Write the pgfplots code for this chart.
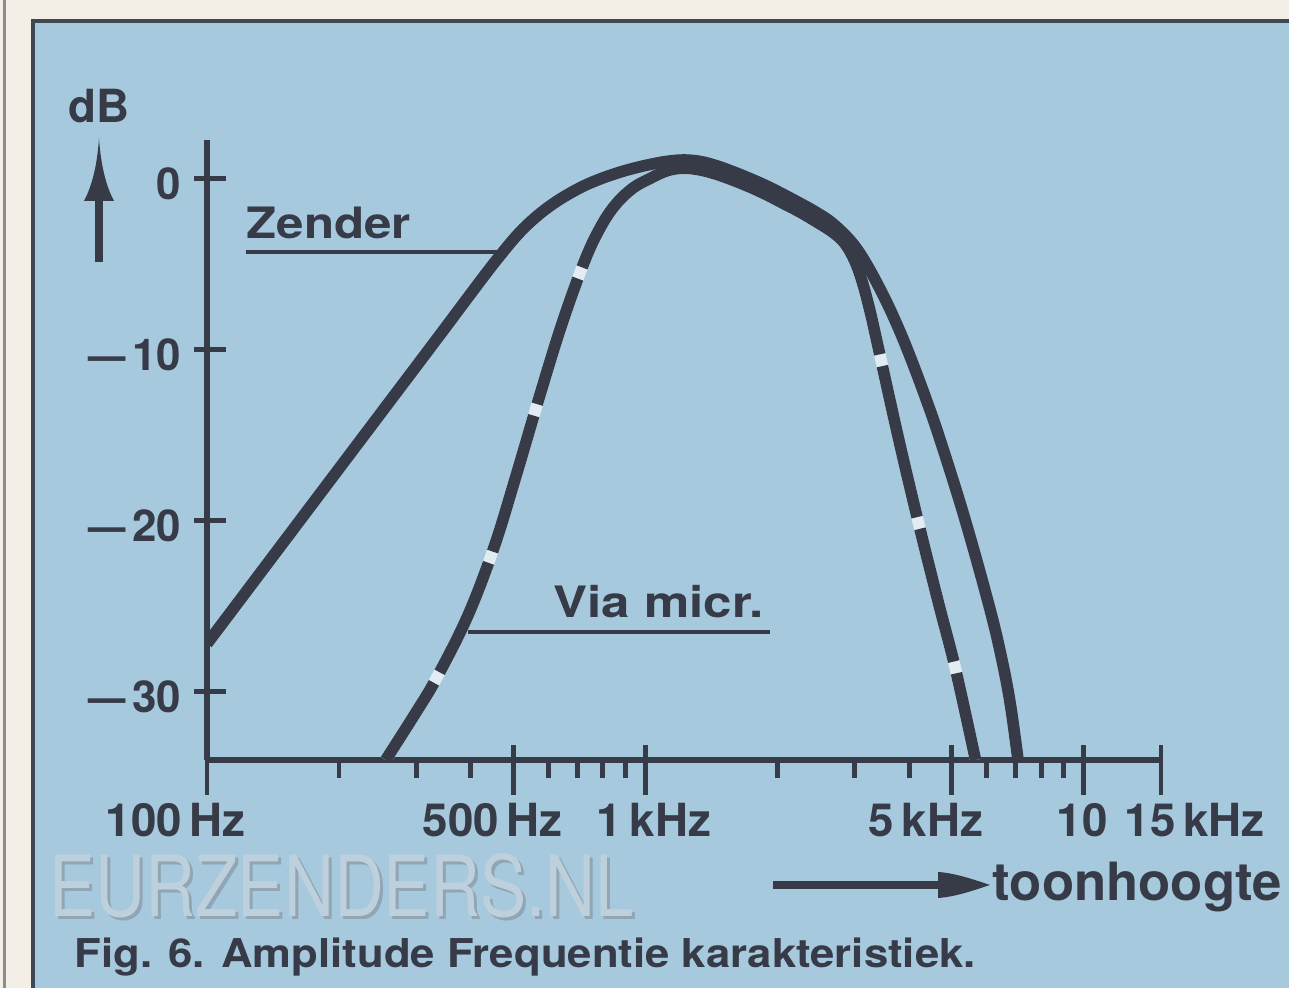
\documentclass[border=0pt]{standalone}
\usepackage{pgfplots}
\usepackage{pgfplotstable}
\pgfplotsset{compat=1.18}
\usepackage{graphicx}
\usepackage{fontspec}
\setmainfont{TeX Gyre Heros}
\definecolor{bgblue}{HTML}{A7C9DE}
\definecolor{ink}{HTML}{363B47}
\definecolor{paper}{HTML}{F3EFE6}
\definecolor{framec}{HTML}{3D4852}
\definecolor{gapc}{HTML}{E2EDF3}
\definecolor{wmfill}{HTML}{BDD0DC}
\definecolor{wmedge}{HTML}{90A6B4}

\pgfplotstableread{
f db
100 -27.2
216 -15.83
330 -9.58
420 -6.0
467 -4.48
515 -3.19
564 -2.23
615 -1.49
669 -0.90
730 -0.39
796 0.01
870 0.35
945 0.61
1030 0.83
1120 1.0
1220 1.08
1330 1.0
1450 0.75
1583 0.4
1730 0.0
1892 -0.44
2060 -0.92
2250 -1.44
2460 -2.0
2677 -2.64
2960 -3.75
3200 -5.04
3500 -6.91
3750 -8.56
4000 -10.3
4350 -12.78
4700 -15.27
5350 -19.88
6100 -25.12
6500 -28.1
6800 -30.75
7080 -34
}\zender

\pgfplotstableread{
f db
255.6 -34
300 -31.2
334 -29.2
393 -25.6
451 -21.6
504 -17.6
574 -12.7
647 -8.4
730 -4.7
796 -2.7
860 -1.45
938 -0.55
1025 0.0
1120 0.45
1220 0.6
1330 0.5
1450 0.25
1583 -0.1
1730 -0.5
1892 -0.96
2060 -1.45
2250 -1.96
2460 -2.55
2677 -3.15
2850 -3.8
3000 -4.8
3120 -6.0
3250 -7.7
3385 -9.7
3771 -15.1
4184 -20.0
4659 -24.8
5088 -28.6
5663 -34
}\viamicr

\begin{document}
\begin{tikzpicture}
\useasboundingbox (0,0) rectangle (128.9mm,98.8mm);
% background and frame (pixel coordinates, y downwards)
\begin{scope}[x=0.1mm,y=-0.1mm,shift={(0,98.8mm)}]
  \fill[paper] (0,0) rectangle (1289,988);
  \fill[black!45] (3,0) rectangle (6,988);
  \fill[bgblue] (31,19) rectangle (1289,988);
  \draw[framec, line width=0.4mm] (31,21) -- (1289,21);
  \draw[framec, line width=0.4mm] (33,19) -- (33,988);
  % watermark
  \node[anchor=base west, inner sep=0, text=wmedge] at (52,920)
    {\fontsize{24pt}{26pt}\selectfont\scalebox{0.82}[1]{EURZENDERS.NL}};
  \node[anchor=base west, inner sep=0, text=wmfill] at (49,917)
    {\fontsize{24pt}{26pt}\selectfont\scalebox{0.82}[1]{EURZENDERS.NL}};
\end{scope}

\begin{axis}[
  at={(20.7mm,22.8mm)}, anchor=south west,
  scale only axis, width=95.4mm, height=62mm,
  xmode=log, xmin=100, xmax=15000, ymin=-34, ymax=2.25,
  axis x line*=bottom, axis y line*=left,
  axis line style={-, line width=1.9pt, draw=ink},
  xtick={100,500,1000,5000,10000,15000}, xticklabels={},
  minor xtick={200,300,400,600,700,800,900,2000,3000,4000,6000,7000,8000,9000},
  ytick=\empty,
  minor ytick={-5,-15,-25},
  extra y ticks={0,-10,-20,-30}, extra y tick labels={},
  extra y tick style={major tick length=3.2mm, tick align=center, xshift=0.3mm},
  tick align=center, major tick length=5mm, minor tick length=1.8mm,
  tick style={draw=ink, line width=1.4pt},
  major x tick style={yshift=-1mm},
  minor x tick style={yshift=-0.9mm},
  minor y tick style={xshift=-0.9mm},
]
\addplot[gapc, line width=3.3pt, smooth, tension=0.6] table[x=f,y=db] {\viamicr};
\addplot[ink, line width=3.3pt, smooth, tension=0.6,
  dash pattern=on 9.1mm off 1.2mm on 12mm off 1.2mm on 14.2mm off 1.2mm on 13.2mm off 1.2mm on 44.8mm off 1.2mm on 15.5mm off 1.2mm on 13.7mm off 1.2mm on 30mm off 1.2mm]
  table[x=f,y=db] {\viamicr};
\addplot[ink, line width=3.3pt, smooth, tension=0.6] table[x=f,y=db] {\zender};
\end{axis}

\begin{scope}[x=0.1mm,y=-0.1mm,shift={(0,98.8mm)}, every node/.style={inner sep=0, text=ink, font=\bfseries}]
  % y label and arrow
  \node at (99,106) {\fontsize{13pt}{15pt}\selectfont dB};
  \fill[ink] (99,138) .. controls (97,170) and (90,190) .. (84,201) -- (114,201) .. controls (108,190) and (101,170) .. (99,138) -- cycle;
  \draw[ink, line width=0.86mm] (99,195) -- (99,262);
  % y tick labels
  \node[anchor=east] at (182,184) {\fontsize{12.5pt}{14pt}\selectfont 0};
  \node[anchor=east] at (182,355) {\fontsize{12.5pt}{14pt}\selectfont\scalebox{0.85}[1]{---}\hspace{0.7mm}10};
  \node[anchor=east] at (182,526) {\fontsize{12.5pt}{14pt}\selectfont\scalebox{0.85}[1]{---}\hspace{0.7mm}20};
  \node[anchor=east] at (182,697) {\fontsize{12.5pt}{14pt}\selectfont\scalebox{0.85}[1]{---}\hspace{0.7mm}30};
  % x tick labels
  \node[anchor=base west] at (105,837) {\fontsize{13pt}{15pt}\selectfont 100\,Hz};
  \node[anchor=base west] at (422,837) {\fontsize{13pt}{15pt}\selectfont 500\,Hz};
  \node[anchor=base west] at (596,837) {\fontsize{13pt}{15pt}\selectfont 1\,kHz};
  \node[anchor=base west] at (868,837) {\fontsize{13pt}{15pt}\selectfont 5\,kHz};
  \node[anchor=base west] at (1056,837) {\fontsize{13pt}{15pt}\selectfont 10};
  \node[anchor=base west] at (1124,837) {\fontsize{13pt}{15pt}\selectfont 15\,kHz};
  % series labels with leader lines
  \node[anchor=base west] at (246,239) {\fontsize{12.3pt}{14pt}\selectfont\scalebox{1.14}[1]{Zender}};
  \draw[ink, line width=0.4mm] (246,252) -- (500,252);
  \node[anchor=base west] at (553,618) {\fontsize{12.3pt}{14pt}\selectfont\scalebox{1.18}[1]{Via micr.}};
  \draw[ink, line width=0.4mm] (468,632) -- (770,632);
  % x direction arrow and label
  \draw[ink, line width=0.8mm] (773,885) -- (950,885);
  \fill[ink] (990,885) .. controls (975,880) and (955,873) .. (938,872) -- (938,898) .. controls (955,897) and (975,890) .. (990,885) -- cycle;
  \node[anchor=base west] at (992,901) {\fontsize{15pt}{17pt}\selectfont toonhoogte};
  % caption
  \node[anchor=base west] at (74,968) {\fontsize{11.3pt}{13pt}\selectfont\scalebox{1.10}[1]{Fig. 6. Amplitude Frequentie karakteristiek.}};
\end{scope}
\end{tikzpicture}
\end{document}
